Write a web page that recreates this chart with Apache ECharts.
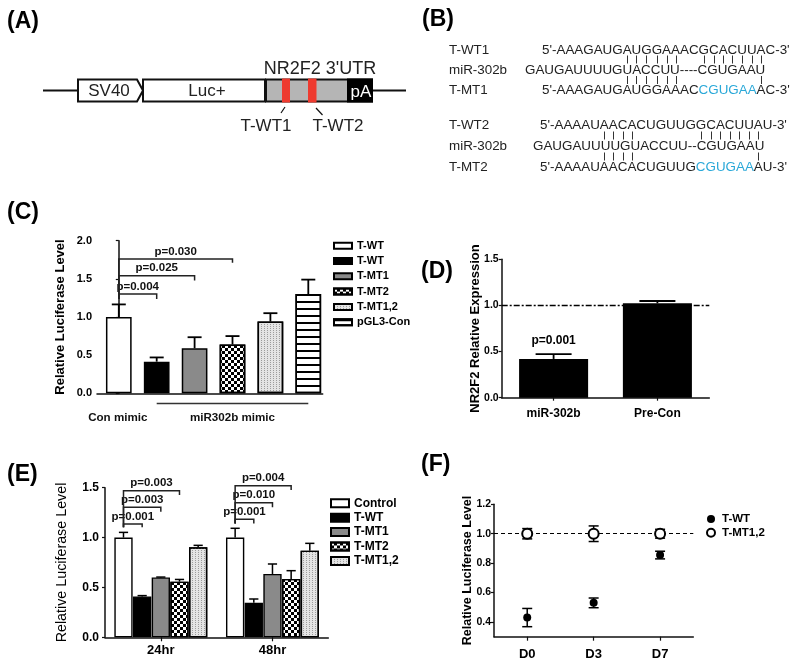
<!DOCTYPE html>
<html><head><meta charset="utf-8">
<script src="https://cdn.jsdelivr.net/npm/echarts@6/dist/echarts.min.js"></script>
<style>html,body{margin:0;padding:0;background:#fff}#c{width:800px;height:661px}</style>
</head><body><div id="c"></div>
<script>
// ================= DATA =================
// Panel C
const cCategories = ['T-WT', 'T-WT', 'T-MT1', 'T-MT2', 'T-MT1,2', 'pGL3-Con'];
const cValues = [1.00, 0.415, 0.59, 0.64, 0.94, 1.30];
const cErrors = [0.165, 0.055, 0.145, 0.11, 0.11, 0.19];
const cGroupLabels = ['Con mimic', 'miR302b mimic'];
const cYTicks = [0, 0.5, 1.0, 1.5, 2.0];
// brackets: [from index, to index, top y, left-leg bottom, right-leg bottom]
const cBrackets = [[0, 1, 1.30, 1.235, 1.235], [0, 2, 1.54, 1.235, 1.48], [0, 3, 1.76, 1.235, 1.71]];
const cPValues = ['p=0.004', 'p=0.025', 'p=0.030'];

// Panel D
const dCategories = ['miR-302b', 'Pre-Con'];
const dValues = [0.42, 1.023];
const dErrors = [0.053, 0.025];
const dPValues = ['p=0.001', ''];

// Panel E
const eCategories = ['24hr', '48hr'];
const eSeriesNames = ['Control', 'T-WT', 'T-MT1', 'T-MT2', 'T-MT1,2'];
const eControl = [1.00, 1.00];   const eControlErr = [0.052, 0.093];
const eTWT = [0.41, 0.347];      const eTWTErr = [0.008, 0.037];
const eTMT1 = [0.60, 0.635];     const eTMT1Err = [0.004, 0.10];
const eTMT2 = [0.558, 0.585];    const eTMT2Err = [0.022, 0.083];
const eTMT12 = [0.902, 0.869];   const eTMT12Err = [0.02, 0.073];
// brackets: [category, bar from, bar to, top y, left bottom, right bottom]
const eBrackets = [
  [0, 0, 1, 1.136, 1.103, 1.103], [0, 0, 2, 1.304, 1.103, 1.26], [0, 0, 3, 1.47, 1.103, 1.427],
  [1, 0, 1, 1.184, 1.14, 1.14], [1, 0, 2, 1.35, 1.14, 1.304], [1, 0, 3, 1.52, 1.14, 1.477]
];
const ePValues = ['p=0.001', 'p=0.003', 'p=0.003', 'p=0.001', 'p=0.010', 'p=0.004'];

// Panel F
const fCategories = ['D0', 'D3', 'D7'];
const fSeriesNames = ['T-WT', 'T-MT1,2'];
const fTWT = [0.43, 0.53, 0.855];   const fTWTErr = [0.062, 0.033, 0.026];
const fTMT12 = [1.0, 1.0, 1.0];     const fTMT12Err = [0.035, 0.053, 0.03];
const fYTicks = [0.4, 0.6, 0.8, 1.0, 1.2];

// Panel B sequences
const bLabels = ['T-WT1', 'miR-302b', 'T-MT1', 'T-WT2', 'miR-302b', 'T-MT2'];
const bSeqs = [
  "5'-AAAGAUGAUGGAAACGCACUUAC-3'",
  "GAUGAUUUUGUACCUU----CGUGAAU",
  "5'-AAAGAUGAUGGAAACCGUGAAAC-3'",
  "5'-AAAAUAACACUGUUGGCACUUAU-3'",
  "GAUGAUUUUGUACCUU--CGUGAAU",
  "5'-AAAAUAACACUGUUGCGUGAAAU-3'"
];
const bBlue = [null, null, [18, 24], null, null, [18, 24]];
// pairing tick positions (character indexes in the target row above)
const bPairs = [
  {row: 0, idx: [10, 11, 12, 13, 14, 15, 18, 19, 20, 21, 22, 23, 24]},
  {row: 2, idx: [10, 11, 12, 13, 14, 15, 24]},
  {row: 3, idx: [8, 9, 10, 11, 18, 19, 20, 21, 22, 23, 24]},
  {row: 5, idx: [8, 9, 10, 11, 24]}
];

// ================= STYLE =================
const FONT = '"Liberation Sans", Arial, Helvetica, sans-serif';
const decalChecker = {symbol: 'rect', symbolSize: 1, color: '#000', dashArrayX: [[3, 3], [0, 3, 3, 0]], dashArrayY: [3, 0]};
const decalDots = {symbol: 'rect', symbolSize: 1, color: '#9c9c9c', dashArrayX: [1, 2], dashArrayY: [1, 1]};
const decalStripes = {symbol: 'rect', symbolSize: 1, color: '#000', dashArrayX: [[40, 0]], dashArrayY: [2, 5]};
const sWhite = {color: '#fff'}, sBlack = {color: '#000'}, sGray = {color: '#8a8a8a'};
const sChecker = {color: '#fff', decal: decalChecker};
const sDots = {color: '#e4e4e4', decal: decalDots};
const sStripes = {color: '#fff', decal: decalStripes};
const cStyles = [sWhite, sBlack, sGray, sChecker, sDots, sStripes];
const eStyles = [sWhite, sBlack, sGray, sChecker, sDots];

const axisLineStyle = {show: true, lineStyle: {color: '#111', width: 1.5}};
function yLabel(size, margin) {
  return {color: '#000', fontWeight: 'bold', fontSize: size, fontFamily: FONT, margin: margin, formatter: v => v.toFixed(1)};
}
function nameStyle(size, weight) {
  return {color: '#000', fontWeight: weight, fontSize: size, fontFamily: FONT};
}

// ================= ERROR BAR / BRACKET RENDERERS =================
function errRender(o) {
  return function (params, api) {
    const c = api.value(0), k = api.value(1), v = api.value(2), e = api.value(3);
    const dx = (k - o.mid) * o.step;
    const pm = api.coord([c, v]), pt = api.coord([c, v + e]), pb = api.coord([c, v - e]);
    const x = pm[0] + dx;
    const st = {stroke: '#000', lineWidth: o.lw};
    const ch = [
      {type: 'line', shape: {x1: x, y1: o.both ? pb[1] : pm[1], x2: x, y2: pt[1]}, style: st},
      {type: 'line', shape: {x1: x - o.cap, y1: pt[1], x2: x + o.cap, y2: pt[1]}, style: st}
    ];
    if (o.both) ch.push({type: 'line', shape: {x1: x - o.cap, y1: pb[1], x2: x + o.cap, y2: pb[1]}, style: st});
    if (o.labels && o.labels[params.dataIndex]) {
      ch.push({type: 'text', style: {text: o.labels[params.dataIndex], x: x, y: pt[1] - 13,
        align: 'center', verticalAlign: 'middle', textAlign: 'center', textVerticalAlign: 'middle',
        font: 'bold 12px ' + FONT, fill: '#000'}});
    }
    return {type: 'group', children: ch};
  };
}
function bracketRender(o) {
  return function (params, api) {
    const c = api.value(0), k1 = api.value(1), k2 = api.value(2);
    const yt = api.value(3), yl = api.value(4), yr = api.value(5);
    const xp = (k) => o.valueX ? api.coord([k, yt])[0] : api.coord([c, yt])[0] + (k - o.mid) * o.step;
    const x1 = xp(k1), x2 = xp(k2);
    const Yt = api.coord([0, yt])[1], Yl = api.coord([0, yl])[1], Yr = api.coord([0, yr])[1];
    const st = {stroke: '#222', lineWidth: 1.5, fill: null};
    return {type: 'group', children: [
      {type: 'polyline', shape: {points: [[x1, Yl], [x1, Yt], [x2, Yt], [x2, Yr]]}, style: st},
      {type: 'text', style: {text: o.labels[params.dataIndex], x: (x1 + x2) / 2, y: Yt - 7.5,
        align: 'center', verticalAlign: 'middle', textAlign: 'center', textVerticalAlign: 'middle',
        font: 'bold 11.5px ' + FONT, fill: '#111'}}
    ]};
  };
}

// ================= SERIES =================
const series = [];
// C bars (value x-axis, one series per bar for the legend)
cCategories.forEach((n, i) => series.push({
  type: 'bar', name: 'C' + i, xAxisIndex: 0, yAxisIndex: 0, data: [[i, cValues[i]]],
  barWidth: 25.7, barGap: '-100%',
  itemStyle: Object.assign({borderColor: '#000', borderWidth: 1.5}, cStyles[i])
}));
series.push({type: 'custom', xAxisIndex: 0, yAxisIndex: 0, z: 5, clip: false,
  encode: {x: 0, y: 2},
  data: cValues.map((v, i) => [i, 0, v, cErrors[i]]),
  renderItem: errRender({mid: 0, step: 0, cap: 7, lw: 1.8})});
series.push({type: 'custom', xAxisIndex: 0, yAxisIndex: 0, z: 5, clip: false,
  encode: {x: 1, y: 3},
  data: cBrackets.map(b => [0, b[0], b[1], b[2], b[3], b[4]]),
  renderItem: bracketRender({valueX: true, labels: cPValues})});

// D bars
series.push({type: 'bar', name: 'D0', xAxisIndex: 1, yAxisIndex: 1, data: dValues, barWidth: '66.5%',
  itemStyle: {color: '#000'},
  markLine: {symbol: 'none', silent: true, label: {show: false},
    lineStyle: {type: [6, 2, 2, 2], color: '#000', width: 1.3}, data: [{yAxis: 1}]}});
series.push({type: 'custom', xAxisIndex: 1, yAxisIndex: 1, z: 5, clip: false,
  encode: {x: 0, y: 2},
  data: dValues.map((v, i) => [i, 0, v, dErrors[i]]),
  renderItem: errRender({mid: 0, step: 0, cap: 18, lw: 1.8, labels: dPValues})});

// E bars
const eVals = [eControl, eTWT, eTMT1, eTMT2, eTMT12];
const eErrs = [eControlErr, eTWTErr, eTMT1Err, eTMT2Err, eTMT12Err];
const eBarW = 18.3, eStep = eBarW * 1.02;
eSeriesNames.forEach((n, k) => series.push({
  type: 'bar', name: 'E' + k, xAxisIndex: 2, yAxisIndex: 2, data: eVals[k],
  barWidth: eBarW, barGap: '2%',
  itemStyle: Object.assign({borderColor: '#000', borderWidth: 1.4}, eStyles[k])
}));
const eErrData = [];
eVals.forEach((arr, k) => arr.forEach((v, c) => eErrData.push([c, k, v, eErrs[k][c]])));
series.push({type: 'custom', xAxisIndex: 2, yAxisIndex: 2, z: 5, clip: false,
  encode: {x: 0, y: 2}, data: eErrData,
  renderItem: errRender({mid: 2, step: eStep, cap: 4.6, lw: 1.5})});
series.push({type: 'custom', xAxisIndex: 2, yAxisIndex: 2, z: 5, clip: false,
  encode: {x: 0, y: 3}, data: eBrackets,
  renderItem: bracketRender({valueX: false, mid: 2, step: eStep, labels: ePValues})});

// F points
series.push({type: 'custom', xAxisIndex: 3, yAxisIndex: 3, z: 3, clip: false,
  encode: {x: 0, y: 2},
  data: fTWT.map((v, i) => [i, 0, v, fTWTErr[i]]).concat(fTMT12.map((v, i) => [i, 0, v, fTMT12Err[i]])),
  renderItem: errRender({mid: 0, step: 0, cap: 5, lw: 1.5, both: true})});
series.push({type: 'scatter', name: 'F0', xAxisIndex: 3, yAxisIndex: 3, data: fTWT, z: 6,
  symbol: 'circle', symbolSize: 8, itemStyle: {color: '#000', opacity: 1}});
series.push({type: 'scatter', name: 'F1', xAxisIndex: 3, yAxisIndex: 3, data: fTMT12, z: 6,
  symbol: 'emptyCircle', symbolSize: 10, itemStyle: {color: '#000', borderColor: '#000', borderWidth: 1.3, opacity: 1},
  markLine: {symbol: 'none', silent: true, label: {show: false}, z: 2,
    lineStyle: {type: [4, 3], color: '#000', width: 1.2}, data: [{yAxis: 1}]}});

// ================= LEGENDS =================
const legendNames = {};
cCategories.forEach((n, i) => legendNames['C' + i] = n);
eSeriesNames.forEach((n, i) => legendNames['E' + i] = n);
fSeriesNames.forEach((n, i) => legendNames['F' + i] = n);
const legFmt = n => legendNames[n];

const option = {
  animation: false,
  backgroundColor: '#fff',
  textStyle: {fontFamily: FONT},
  grid: [
    {left: 97, top: 240.7, width: 225.7, height: 152.6, outerBoundsMode: 'none'},
    {left: 501.7, top: 259.3, width: 207.6, height: 138.4, outerBoundsMode: 'none'},
    {left: 105, top: 487.7, width: 223.3, height: 149.6, outerBoundsMode: 'none'},
    {left: 494, top: 504.3, width: 199.3, height: 132.4, outerBoundsMode: 'none'}
  ],
  xAxis: [
    {gridIndex: 0, type: 'value', min: -0.575, max: 5.38, axisLine: axisLineStyle,
      axisTick: {show: false}, axisLabel: {show: false}, splitLine: {show: false}},
    {gridIndex: 1, type: 'category', data: dCategories, axisLine: axisLineStyle,
      axisTick: {show: true, alignWithLabel: true, length: 3, lineStyle: {color: '#111', width: 1.2}},
      axisLabel: {color: '#000', fontWeight: 'bold', fontSize: 12, margin: 10, fontFamily: FONT}},
    {gridIndex: 2, type: 'category', data: eCategories, axisLine: axisLineStyle,
      axisTick: {show: true, alignWithLabel: true, length: 4, lineStyle: {color: '#111', width: 1.2}},
      axisLabel: {color: '#000', fontWeight: 'bold', fontSize: 13, margin: 7, fontFamily: FONT}},
    {gridIndex: 3, type: 'category', data: fCategories, axisLine: axisLineStyle,
      axisTick: {show: true, alignWithLabel: true, length: 4, lineStyle: {color: '#111', width: 1.2}},
      axisLabel: {color: '#000', fontWeight: 'bold', fontSize: 13, margin: 11, fontFamily: FONT}}
  ],
  yAxis: [
    {gridIndex: 0, type: 'value', min: 0, max: 2, interval: 0.5, axisLine: axisLineStyle,
      axisTick: {show: true, length: 3, lineStyle: {color: '#111', width: 1.2}},
      axisLabel: yLabel(11, 5), splitLine: {show: false},
      name: 'Relative Luciferase Level', nameLocation: 'middle', nameGap: 30, nameMoveOverlap: false,
      nameTextStyle: nameStyle(13, 'bold')},
    {gridIndex: 1, type: 'value', min: 0, max: 1.5, interval: 0.5, axisLine: axisLineStyle,
      axisTick: {show: true, length: 3, lineStyle: {color: '#111', width: 1.2}},
      axisLabel: yLabel(10.5, 3), splitLine: {show: false},
      name: 'NR2F2 Relative Expression', nameLocation: 'middle', nameGap: 20, nameMoveOverlap: false,
      nameTextStyle: nameStyle(13, 'bold')},
    {gridIndex: 2, type: 'value', min: 0, max: 1.5, interval: 0.5, axisLine: axisLineStyle,
      axisTick: {show: true, length: 3, lineStyle: {color: '#111', width: 1.2}},
      axisLabel: yLabel(12, 6), splitLine: {show: false},
      name: 'Relative Luciferase Level', nameLocation: 'middle', nameGap: 36, nameMoveOverlap: false,
      nameTextStyle: nameStyle(14.3, 'normal')},
    {gridIndex: 3, type: 'value', min: 0.3, max: 1.2, axisLine: axisLineStyle,
      axisTick: {show: true, length: 3, customValues: fYTicks, lineStyle: {color: '#111', width: 1.2}},
      axisLabel: Object.assign(yLabel(10.5, 3), {customValues: fYTicks}), splitLine: {show: false},
      name: 'Relative Luciferase Level', nameLocation: 'middle', nameGap: 20, nameMoveOverlap: false,
      nameTextStyle: nameStyle(12.5, 'bold')}
  ],
  legend: [
    {data: cCategories.map((n, i) => 'C' + i), formatter: legFmt, orient: 'vertical', left: 328, top: 234.7,
      itemWidth: 18, itemHeight: 6, itemGap: 3.3, icon: 'rect', selectedMode: false,
      textStyle: {color: '#000', fontWeight: 'bold', fontSize: 11, lineHeight: 12, fontFamily: FONT}},
    {data: eSeriesNames.map((n, i) => 'E' + i), formatter: legFmt, orient: 'vertical', left: 325, top: 491.8,
      itemWidth: 18, itemHeight: 8, itemGap: 1.4, icon: 'rect', selectedMode: false,
      textStyle: {color: '#000', fontWeight: 'bold', fontSize: 12, lineHeight: 13, fontFamily: FONT}},
    {data: ['F0', 'F1'], formatter: legFmt, orient: 'vertical', left: 701, top: 507.5,
      itemWidth: 12, itemHeight: 8, itemGap: 0.7, selectedMode: false,
      textStyle: {color: '#000', fontWeight: 'bold', fontSize: 11.5, lineHeight: 13, fontFamily: FONT}}
  ],
  series: series
};

const chart = echarts.init(document.getElementById('c'), null, {renderer: 'canvas', width: 800, height: 661});
chart.setOption(option);

// ================= GRAPHICS (diagram A, sequences B, group labels C) =================
const G = [];
const T = (text, x, y, font, fill, align) => G.push({type: 'text', silent: true, style: {
  text: text, x: x, y: y, font: font, fill: fill || '#222',
  align: align || 'center', verticalAlign: 'middle', textAlign: align || 'center', textVerticalAlign: 'middle'}});
const L = (x1, y1, x2, y2, w, col) => G.push({type: 'line', silent: true, shape: {x1, y1, x2, y2},
  style: {stroke: col || '#111', lineWidth: w}});
const R = (x, y, w, h, fill, stroke, lw) => G.push({type: 'rect', silent: true, shape: {x, y, width: w, height: h},
  style: {fill: fill, stroke: stroke || null, lineWidth: lw || 0}});

// panel letters
const LET = 'bold 23px ' + FONT;
T('(A)', 7, 22, LET, '#000', 'left');
T('(B)', 422, 20, LET, '#000', 'left');
T('(C)', 7, 213, LET, '#000', 'left');
T('(D)', 421, 272, LET, '#000', 'left');
T('(E)', 7, 475, LET, '#000', 'left');
T('(F)', 421, 465, LET, '#000', 'left');

// Panel A construct diagram
L(43, 90.5, 406, 90.5, 2);
G.push({type: 'polygon', silent: true, shape: {points: [[78, 79.5], [137, 79.5], [143, 90.5], [137, 101.5], [78, 101.5]]},
  style: {fill: '#fff', stroke: '#111', lineWidth: 2}});
R(143, 79.5, 122, 22, '#fff', '#111', 2);
R(266, 79.5, 106, 22, '#b5b5b5', '#111', 2);
R(348, 79.5, 24, 22, '#000', '#000', 2);
R(282, 78.5, 8, 24, '#ee3a2f');
R(308, 78.5, 8.5, 24, '#ee3a2f');
const AF = '17px ' + FONT;
T('SV40', 109, 91, AF);
T('Luc+', 207, 91, AF);
T('pA', 361, 92, AF, '#fff');
T("NR2F2 3'UTR", 320, 69, '18px ' + FONT);
L(285, 107, 281, 113, 1.2);
L(316, 108, 322.5, 115, 1.2);
T('T-WT1', 266, 126, AF);
T('T-WT2', 338, 126, AF);

// Panel B sequences
const SF = '13.4px ' + FONT;
const mctx = document.createElement('canvas').getContext('2d');
mctx.font = SF;
const mw = s => mctx.measureText(s).width;
const bRowY = [50, 70, 90, 125, 146, 167];
const bRowX = [542, 525, 542, 540, 533, 540];
bLabels.forEach((lab, r) => T(lab, 449, bRowY[r], SF, '#222', 'left'));
bSeqs.forEach((s, r) => {
  const x0 = bRowX[r], y = bRowY[r], bl = bBlue[r];
  if (!bl) { T(s, x0, y, SF, '#222', 'left'); return; }
  const a = s.slice(0, bl[0]), b = s.slice(bl[0], bl[1]), c = s.slice(bl[1]);
  T(a, x0, y, SF, '#222', 'left');
  T(b, x0 + mw(a), y, SF, '#2aa8d8', 'left');
  T(c, x0 + mw(a + b), y, SF, '#222', 'left');
});
const tickMid = {0: 59.5, 2: 80, 3: 135.5, 5: 156.5};
bPairs.forEach(p => {
  const s = bSeqs[p.row], x0 = bRowX[p.row], ym = tickMid[p.row];
  p.idx.forEach(i => {
    const cx = Math.round(x0 + mw(s.slice(0, i)) + mw(s[i]) / 2) + 0.5;
    L(cx, ym - 4, cx, ym + 4, 1, '#333');
  });
});

// Panel C group line and labels (positioned through the x axis scale)
const px = v => chart.convertToPixel({xAxisIndex: 0}, v);
L(px(1), 403.5, px(5), 403.5, 1.6, '#333');
T(cGroupLabels[0], px(0) - 1, 418, 'bold 11.6px ' + FONT, '#111');
T(cGroupLabels[1], px(3), 418, 'bold 11.6px ' + FONT, '#111');

chart.setOption({graphic: {elements: G}});
</script>
</body></html>
